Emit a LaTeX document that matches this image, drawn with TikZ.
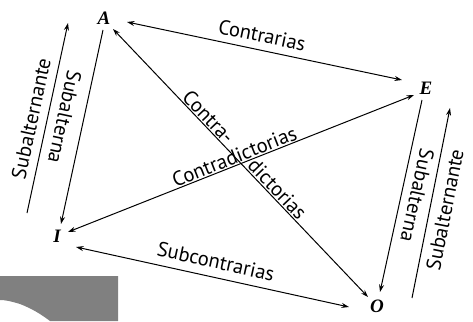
\documentclass[tikz,border=0pt]{standalone}
\usepackage{fontspec}
\setmainfont{PT Sans}
\newfontfamily\vfont{Liberation Serif}
\usetikzlibrary{arrows.meta}
\begin{document}
\begin{tikzpicture}[x=1pt,y=-1pt,
  vtx/.style={font=\vfont\fontsize{19}{19}\selectfont\bfseries\itshape, inner sep=0pt},
  lbl/.style={font=\fontsize{20.5}{20.5}\selectfont, inner sep=0pt, sloped, allow upside down},
  tip/.tip={Stealth[length=7.5pt,width=5pt]},
  both/.style={line width=1pt, tip-tip},
  one/.style={line width=1pt, -tip}]
\useasboundingbox (0,0) rectangle (473,321);
% scan patch
\fill[black!50] (0,276) -- (118,276) -- (118,321) -- (50,321)
  .. controls (42,315) and (33,309) .. (20,304) .. controls (10,301) and (5,300) .. (0,300) -- cycle;
% vertices
\node[vtx] (A) at (104,18) {A};
\node[vtx] (E) at (426,88) {E};
\node[vtx] (I) at (57,236) {I};
\node[vtx] (O) at (377,306) {O};
% connectors with labels
\draw[both] ([shift={(23,4)}]A.center) -- node[lbl, pos=0.48, above=7pt] (tcon) {Contrarias} ([shift={(-24,-8)}]E.center);
\draw[both] ([shift={(11,-4)}]I.center) -- node[lbl, pos=0.49, above=1pt] (tcd) {Contradictorias} ([shift={(-12,7)}]E.center);
\draw[both] ([shift={(9,11)}]A.center) -- node[lbl, pos=0.35, above=1pt] (tc1) {Contra-}
  node[lbl, pos=0.62, above=1pt] (tc2) {dictorias} ([shift={(-9,-9)}]O.center);
\draw[both] ([shift={(19,11)}]I.center) -- node[lbl, pos=0.5, above=8pt] (tsub) {Subcontrarias} ([shift={(-28,1)}]O.center);
\draw[one] ([shift={(-1,12)}]A.center) -- node[lbl, pos=0.47, below=11pt] (tsl2) {Subalterna} ([shift={(4,-12)}]I.center);
\draw[one] ([shift={(-30,-23)}]I.center) -- node[lbl, pos=0.48, above=8pt] (tsl1) {Subalternante} ([shift={(-36,5)}]A.center);
\draw[one] ([shift={(-4,12)}]E.center) -- node[lbl, pos=0.48, above=8pt] (tsr1) {Subalterna} ([shift={(3,-14)}]O.center);
\draw[one] ([shift={(35,-8)}]O.center) -- node[lbl, pos=0.48, below=7pt] (tsr2) {Subalternante} ([shift={(24,20)}]E.center);
\end{tikzpicture}
\end{document}
